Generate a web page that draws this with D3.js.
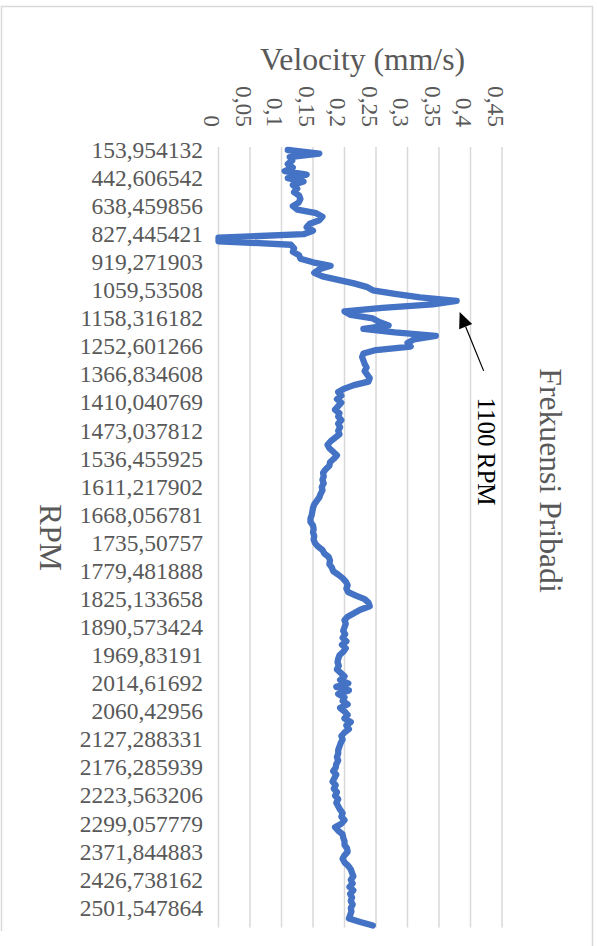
<!DOCTYPE html>
<html>
<head>
<meta charset="utf-8">
<script src="https://cdn.jsdelivr.net/npm/d3@7"></script>
<style>
  html, body { margin: 0; padding: 0; background: #fff; }
  svg { display: block; }
  text { font-family: "Liberation Serif", "Times New Roman", serif; }
</style>
</head>
<body>
<svg id="chart" width="597" height="946"></svg>
<script>
// Velocity (mm/s) for each sample of the RPM sweep, top to bottom
const velocity = [
  0.110,0.160,0.113,0.117,0.110,0.118,0.105,0.140,0.110,0.135,
  0.118,0.125,0.120,0.128,0.130,0.127,0.118,0.125,0.155,0.165,
  0.160,0.145,0.140,0.150,0.135,0.000,0.000,0.115,0.120,0.118,
  0.128,0.130,0.150,0.178,0.160,0.152,0.165,0.190,0.215,0.235,
  0.245,0.280,0.320,0.378,0.340,0.260,0.200,0.210,0.245,0.255,
  0.270,0.230,0.280,0.345,0.310,0.300,0.305,0.250,0.230,0.228,
  0.230,0.232,0.235,0.232,0.236,0.240,0.238,0.215,0.200,0.190,
  0.195,0.188,0.195,0.190,0.185,0.192,0.190,0.195,0.190,0.193,
  0.190,0.192,0.185,0.178,0.173,0.176,0.182,0.188,0.183,0.177,
  0.176,0.170,0.166,0.167,0.165,0.167,0.164,0.165,0.162,0.160,
  0.156,0.152,0.150,0.149,0.148,0.146,0.146,0.150,0.151,0.150,
  0.152,0.151,0.153,0.158,0.165,0.168,0.175,0.177,0.176,0.180,
  0.182,0.190,0.197,0.202,0.205,0.203,0.206,0.218,0.232,0.238,
  0.240,0.225,0.215,0.205,0.200,0.202,0.200,0.198,0.201,0.197,
  0.203,0.196,0.202,0.198,0.192,0.190,0.189,0.191,0.188,0.194,
  0.200,0.193,0.206,0.187,0.207,0.190,0.200,0.197,0.205,0.193,
  0.200,0.205,0.200,0.210,0.203,0.207,0.200,0.195,0.197,0.194,
  0.192,0.190,0.190,0.188,0.190,0.187,0.186,0.182,0.187,0.184,
  0.181,0.186,0.183,0.188,0.185,0.190,0.187,0.190,0.193,0.197,
  0.195,0.200,0.195,0.185,0.190,0.197,0.198,0.200,0.200,0.204,
  0.205,0.200,0.197,0.200,0.206,0.210,0.212,0.214,0.210,0.213,
  0.208,0.214,0.209,0.212,0.210,0.213,0.210,0.211,0.209,0.207,
  0.225,0.245
];

// RPM category labels (one shown every few samples)
const rpmLabels = [
  "153,954132","442,606542","638,459856","827,445421","919,271903",
  "1059,53508","1158,316182","1252,601266","1366,834608","1410,040769",
  "1473,037812","1536,455925","1611,217902","1668,056781","1735,50757",
  "1779,481888","1825,133658","1890,573424","1969,83191","2014,61692",
  "2060,42956","2127,288331","2176,285939","2223,563206","2299,057779",
  "2371,844883","2426,738162","2501,547864"
];

// Velocity axis ticks
const velocityTicks = [0, 0.05, 0.1, 0.15, 0.2, 0.25, 0.3, 0.35, 0.4, 0.45];

const labelEvery = 8;
const fmt = d => String(d).replace(".", ",");

const svg = d3.select("#chart");
const grey = "#595959";

// outer chart frame
svg.append("path")
  .attr("d", "M1.5,931V6.5H592.5V946")
  .attr("fill", "none")
  .attr("stroke", "#d9d9d9")
  .attr("stroke-width", 1.5);

const plotTop = 147, plotBottom = 927.5;

const x = d3.scaleLinear().domain([0, 0.45]).range([218.5, 502]);
const y = d3.scalePoint()
  .domain(d3.range(velocity.length))
  .range([148.25, 927.25])
  .padding(0.5);

// vertical gridlines
svg.append("g")
  .selectAll("line")
  .data(velocityTicks)
  .join("line")
  .attr("x1", d => x(d)).attr("x2", d => x(d))
  .attr("y1", plotTop).attr("y2", plotBottom)
  .attr("stroke", "#d9d9d9")
  .attr("stroke-width", 1.5);

// velocity tick labels, rotated
svg.append("g")
  .selectAll("text")
  .data(velocityTicks)
  .join("text")
  .attr("transform", d => `translate(${x(d) - 14.5},127) rotate(90)`)
  .attr("text-anchor", "end")
  .attr("font-size", 23.5)
  .attr("fill", grey)
  .text(fmt);

// RPM category labels
svg.append("g")
  .selectAll("text")
  .data(rpmLabels)
  .join("text")
  .attr("x", 203)
  .attr("y", (d, j) => y(j * labelEvery) + 7.8)
  .attr("text-anchor", "end")
  .attr("font-size", 23.5)
  .attr("fill", grey)
  .text(d => d);

// velocity trace
const line = d3.line()
  .x(d => x(d))
  .y((d, i) => y(i));

svg.append("path")
  .datum(velocity)
  .attr("d", line)
  .attr("fill", "none")
  .attr("stroke", "#4472c4")
  .attr("stroke-width", 6.3)
  .attr("stroke-linejoin", "round")
  .attr("stroke-linecap", "round");

// axis titles
svg.append("text")
  .attr("x", 362.5).attr("y", 70)
  .attr("text-anchor", "middle")
  .attr("font-size", 31.7)
  .attr("fill", grey)
  .text("Velocity (mm/s)");

svg.append("text")
  .attr("transform", "translate(39.5,537.5) rotate(90)")
  .attr("text-anchor", "middle")
  .attr("font-size", 31.7)
  .attr("fill", grey)
  .text("RPM");

// chart title
svg.append("text")
  .attr("transform", "translate(540,480.5) rotate(90)")
  .attr("text-anchor", "middle")
  .attr("font-size", 31.7)
  .attr("fill", grey)
  .text("Frekuensi Pribadi");

// annotation arrow pointing at the resonance peak
const pk = d3.maxIndex(velocity);
const tip = [x(velocity[pk]) + 3, y(pk) + 11];
const tail = [tip[0] + 24, tip[1] + 59];
const dx = tip[0] - tail[0], dy = tip[1] - tail[1];
const len = Math.hypot(dx, dy);
const ux = dx / len, uy = dy / len;
const headLen = 16, headHalf = 7;
const base = [tip[0] - ux * headLen, tip[1] - uy * headLen];

svg.append("line")
  .attr("x1", tail[0]).attr("y1", tail[1])
  .attr("x2", base[0]).attr("y2", base[1])
  .attr("stroke", "#000")
  .attr("stroke-width", 1.2);

svg.append("path")
  .attr("d", `M${tip[0]},${tip[1]}L${base[0] - uy * headHalf},${base[1] + ux * headHalf}L${base[0] + uy * headHalf},${base[1] - ux * headHalf}Z`)
  .attr("fill", "#000");

svg.append("text")
  .attr("transform", `translate(${tail[0] - 5.5},${tail[1] + 26.5}) rotate(90)`)
  .attr("font-size", 25)
  .attr("fill", "#000")
  .text("1100 RPM");
</script>
</body>
</html>
